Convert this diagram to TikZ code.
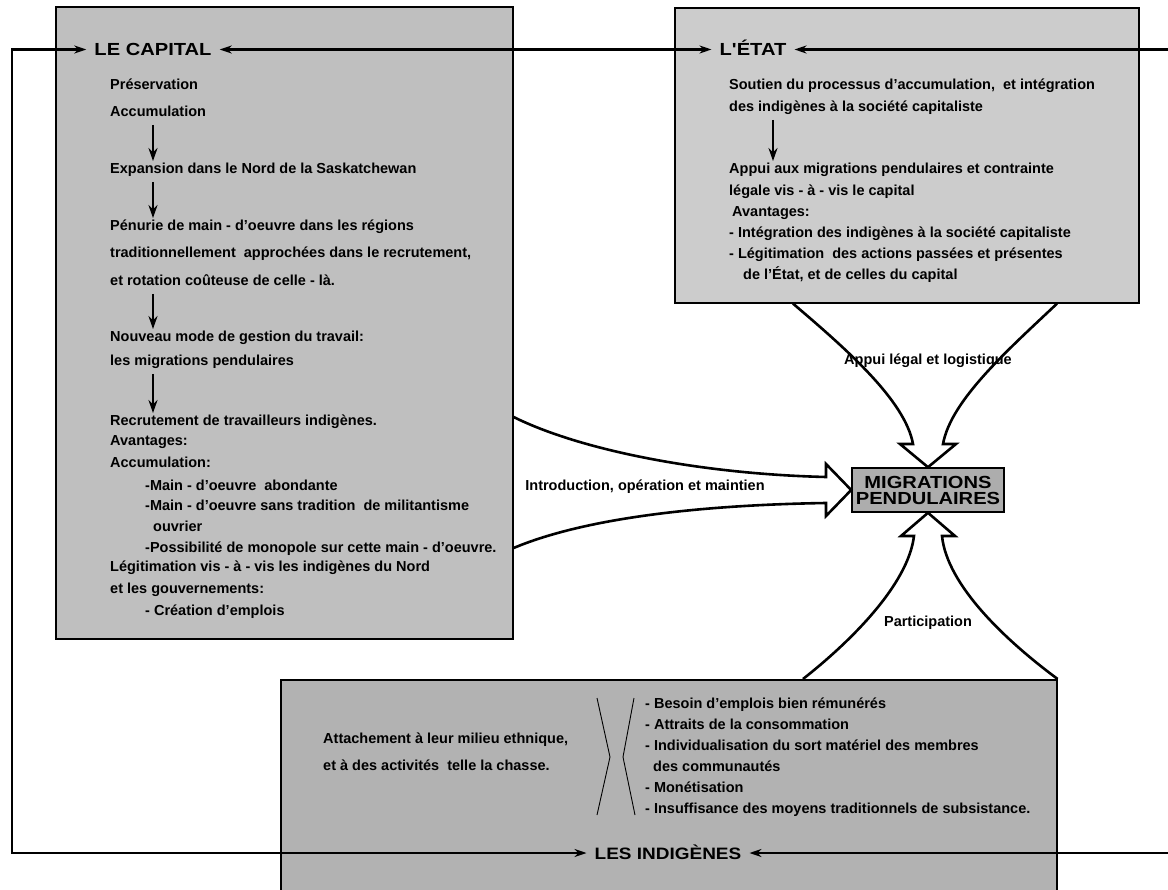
\documentclass[tikz,border=0pt]{standalone}
\usepackage{fontspec}
\setmainfont{Liberation Sans}
\newfontfamily\widefont[FakeStretch=1.15]{Liberation Sans}
\usetikzlibrary{arrows.meta}

\begin{document}
\begin{tikzpicture}[x=1pt, y=-1pt,
  >={Stealth[length=12pt, width=8pt]},
  panel/.style={draw, line width=1.6pt, anchor=north west, inner sep=0pt},
  body/.style={anchor=west, inner sep=0pt, font=\fontsize{14.5}{16}\selectfont\bfseries, text height=10.5pt, text depth=3pt},
  title/.style={inner xsep=8pt, inner ysep=0pt, font=\widefont\fontsize{17.5}{18}\selectfont\bfseries, text height=12.5pt, text depth=0pt},
  loopline/.style={line width=2.6pt, <->},
  flowarrow/.style={line width=2.8pt, ->, >={Stealth[length=13pt, width=9pt]}, shorten <=5pt, shorten >=2pt},
  fat/.style={line width=2.6pt, line join=miter},
  tag/.style={font=\fontsize{14.5}{16}\selectfont\bfseries, inner sep=0pt}]

\useasboundingbox (0,0) rectangle (1168,890);
\clip (0,0) rectangle (1168,890);
\fill[white] (0,0) rectangle (1168,890);

\node[panel, fill=black!25, minimum width=457pt, minimum height=632pt] (capbox) at (55,6) {};
\node[panel, fill=black!20, minimum width=464pt, minimum height=295pt] (etatbox) at (674,7) {};
\node[panel, fill=black!30, minimum width=776pt, minimum height=230pt] (indbox) at (280,679) {};

\node[title] (cap) at (153,49.5) {LE CAPITAL};
\node[title] (etat) at (753,49.5) {L'ÉTAT};
\node[title, font=\widefont\fontsize{16.5}{18}\selectfont\bfseries] (ind) at (668,853) {LES INDIGÈNES};

\coordinate (sw) at (12,853);
\coordinate (ne) at (1190,49.5);
\draw[loopline] (ind.west) -- (sw) |- (cap.west);
\draw[loopline] (cap.east) -- (etat.west);
\draw[loopline] (etat.east) -- (ne) |- (ind.east);

\node[body] (c1) at (110,86) {Préservation};
\node[body] (c2) at (110,113) {Accumulation};
\node[body] (c3) at (110,170) {Expansion dans le Nord de la Saskatchewan};
\node[body] (c4) at (110,227) {Pénurie de main - d'oeuvre dans les régions};
\node[body] (c5) at (110,254) {traditionnellement \ approchées dans le recrutement,};
\node[body] (c6) at (110,282) {et rotation coûteuse de celle - là.};
\node[body] (c7) at (110,338) {Nouveau mode de gestion du travail:};
\node[body] (c8) at (110,362) {les migrations pendulaires};
\node[body] (c9) at (110,422) {Recrutement de travailleurs indigènes.};
\node[body] (c10) at (110,442) {Avantages:};
\node[body] (c11) at (110,464) {Accumulation:};
\node[body] (c12) at (145,487) {-Main - d'oeuvre \ abondante};
\node[body] (c13) at (145,507) {-Main - d'oeuvre sans tradition \ de militantisme};
\node[body] (c14) at (153,528) {ouvrier};
\node[body] (c15) at (145,549) {-Possibilité de monopole sur cette main - d'oeuvre.};
\node[body] (c16) at (110,568) {Légitimation vis - à - vis les indigènes du Nord};
\node[body] (c17) at (110,590) {et les gouvernements:};
\node[body] (c18) at (145,612) {- Création d'emplois};

\draw[flowarrow] ([xshift=43pt]c2.south west) -- ([xshift=43pt]c3.north west);
\draw[flowarrow] ([xshift=43pt]c3.south west) -- ([xshift=43pt]c4.north west);
\draw[flowarrow] ([xshift=43pt]c6.south west) -- ([xshift=43pt]c7.north west);
\draw[flowarrow] ([xshift=43pt]c8.south west) -- ([xshift=43pt]c9.north west);

\node[body] (e1) at (729,86) {Soutien du processus d'accumulation, \ et intégration};
\node[body] (e2) at (729,108) {des indigènes à la société capitaliste};
\node[body] (e3) at (729,170) {Appui aux migrations pendulaires et contrainte};
\node[body] (e4) at (729,192) {légale vis - à - vis le capital};
\node[body] (e5) at (732,213) {Avantages:};
\node[body] (e6) at (729,234) {- Intégration des indigènes à la société capitaliste};
\node[body] (e7) at (729,255) {- Légitimation \ des actions passées et présentes};
\node[body] (e8) at (743,276) {de l'État, et de celles du capital};

\draw[flowarrow] ([xshift=44pt]e2.south west) -- ([xshift=44pt]e3.north west);

\node[body] (i1) at (323,740) {Attachement à leur milieu ethnique,};
\node[body] (i2) at (323,767) {et à des activités \ telle la chasse.};
\node[body] (i3) at (645,705) {- Besoin d'emplois bien rémunérés};
\node[body] (i4) at (645,726) {- Attraits de la consommation};
\node[body] (i5) at (645,747) {- Individualisation du sort matériel des membres};
\node[body] (i6) at (653,768) {des communautés};
\node[body] (i7) at (645,789) {- Monétisation};
\node[body] (i8) at (645,810) {- Insuffisance des moyens traditionnels de subsistance.};

\draw[line width=0.9pt] (597,698) -- (610,757) -- (597,815);
\draw[line width=0.9pt] (634,698) -- (623,757) -- (635,815);

\node[draw, line width=1.6pt, fill=black!32, minimum width=152pt, minimum height=44pt, inner sep=0pt, align=center, font=\widefont\fontsize{17.5}{16}\selectfont\bfseries] (mig) at (928,490) {MIGRATIONS\\PENDULAIRES};

\draw[fat] ([yshift=-411pt]capbox.north east) .. controls (580,450) and (700,474) .. (826,477) -- (826,464) -- (mig.west) -- (826,516) -- (826,503) .. controls (700,505) and (585,518) .. ([yshift=-542pt]capbox.north east);
\draw[fat] ([xshift=119pt]etatbox.south west) .. controls (845,348) and (905,400) .. (913,444) -- (900,444) -- (mig.north) -- (956,444) -- (943,444) .. controls (951,400) and (1008,350) .. ([xshift=383pt]etatbox.south west);
\draw[fat] ([xshift=523pt]indbox.north west) .. controls (850,642) and (908,585) .. (914,536) -- (901,536) -- (mig.south) -- (955,536) -- (942,536) .. controls (947,585) and (1005,640) .. (indbox.north east);

\node[tag] (lab1) at (645,487) {Introduction, opération et maintien};
\node[tag] (lab2) at (928,361) {Appui légal et logistique};
\node[tag] (lab3) at (928,623) {Participation};
\end{tikzpicture}
\end{document}
